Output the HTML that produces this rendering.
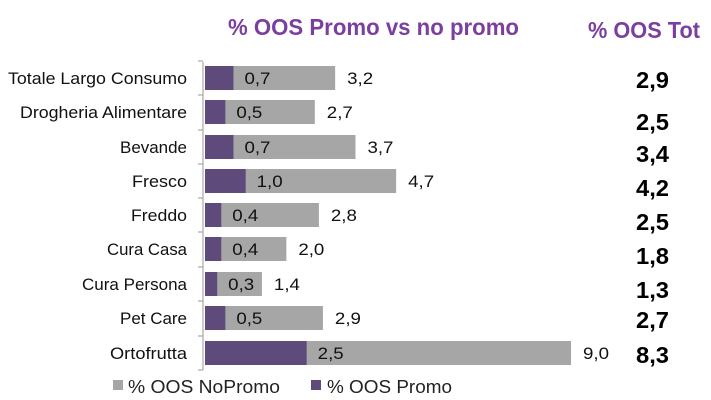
<!DOCTYPE html>
<html><head><meta charset="utf-8"><style>
html,body{margin:0;padding:0;background:#fff;}
svg{display:block;font-family:"Liberation Sans",sans-serif;}
</style></head><body>
<svg width="711" height="400" viewBox="0 0 711 400" xmlns="http://www.w3.org/2000/svg">
<text x="228" y="35" font-size="23" font-weight="bold" fill="#7b3f9e" textLength="291" lengthAdjust="spacingAndGlyphs">% OOS Promo vs no promo</text>
<text x="588" y="38" font-size="23" font-weight="bold" fill="#7b3f9e" textLength="112" lengthAdjust="spacingAndGlyphs">% OOS Tot</text>
<line x1="203" y1="62" x2="203" y2="370" stroke="#999" stroke-width="1"/>
<g id="rows" font-size="17" fill="#111"></g>
<rect x="113" y="380" width="10" height="10" fill="#a6a6a6"/>
<text x="128" y="393" font-size="18" fill="#222" textLength="152" lengthAdjust="spacingAndGlyphs">% OOS NoPromo</text>
<rect x="311" y="380" width="10" height="10" fill="#5f4a7c"/>
<text x="327" y="393" font-size="18" fill="#222" textLength="125" lengthAdjust="spacingAndGlyphs">% OOS Promo</text>
</svg>
<script>
var d=[["Totale Largo Consumo",8,0.7,3.2,"2,9",80,78],["Drogheria Alimentare",20,0.5,2.7,"2,5",122,112],["Bevande",120,0.7,3.7,"3,4",154,147],["Fresco",132,1.0,4.7,"4,2",188,181],["Freddo",131,0.4,2.8,"2,5",222,215],["Cura Casa",107,0.4,2.0,"1,8",256,249],["Cura Persona",82,0.3,1.4,"1,3",290,284],["Pet Care",120,0.5,2.9,"2,7",320,318],["Ortofrutta",110,2.5,9.0,"8,3",355,353]];
var g=document.getElementById("rows"),s="",k=40.67,x0=205;
function f(v){return v.toFixed(1).replace(".",",");}
d.forEach(function(r){var c=r[6];
s+='<line x1="198" y1="'+(c-17)+'" x2="203" y2="'+(c-17)+'" stroke="#999"/>';
s+='<text x="'+r[1]+'" y="'+(c+6)+'" textLength="'+(187-r[1])+'" lengthAdjust="spacingAndGlyphs">'+r[0]+'</text>';
s+='<rect x="'+x0+'" y="'+(c-12)+'" width="'+(r[3]*k)+'" height="24" fill="#a6a6a6"/>';
s+='<rect x="'+x0+'" y="'+(c-12)+'" width="'+(r[2]*k)+'" height="24" fill="#5f4a7c"/>';
s+='<text x="'+(x0+r[2]*k+11)+'" y="'+(c+6)+'" textLength="26" lengthAdjust="spacingAndGlyphs">'+f(r[2])+'</text>';
s+='<text x="'+(x0+r[3]*k+12)+'" y="'+(c+6)+'" textLength="26" lengthAdjust="spacingAndGlyphs">'+f(r[3])+'</text>';
s+='<text x="636" y="'+(r[5]+8)+'" font-size="23" font-weight="bold" fill="#000" textLength="33" lengthAdjust="spacingAndGlyphs">'+r[4]+'</text>';
});
s+='<line x1="198" y1="370" x2="203" y2="370" stroke="#999"/>';
g.innerHTML=s;
</script>
</body></html>
